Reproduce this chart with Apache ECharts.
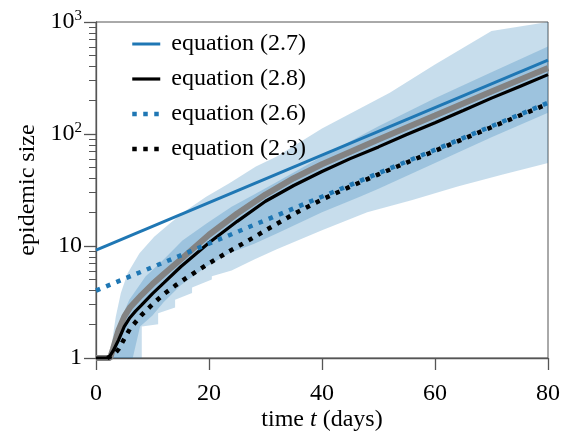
<!DOCTYPE html>
<html><head><meta charset="utf-8">
<script src="https://cdn.jsdelivr.net/npm/echarts@6/dist/echarts.min.js"></script>
<style>html,body{margin:0;padding:0;background:#fff}#c{width:570px;height:432px}</style>
</head><body><div id="c"></div>
<script>
// ---- data ----
const xTicks = [0, 20, 40, 60, 80];
const yTickValues = [1, 10, 100, 1000];
const yTickLabels = ['1', '10', '{b|10}{s|2}', '{b|10}{s|3}'];
const yMinorTicks = [2,3,4,5,6,7,8,9,20,30,40,50,60,70,80,90,200,300,400,500,600,700,800,900];

const eq27Days = [0, 80];
const eq27Vals = [9.2, 457];

const eq26Days = [0, 80];
const eq26Vals = [4.0, 190];

const eq28Days = [0, 2, 2.5, 3, 4, 5, 6, 7, 8, 10, 12, 15, 20, 25, 30, 35, 40, 45, 50, 55, 60, 65, 70, 75, 80];
const eq28Vals = [1, 1, 1.05, 1.15, 1.45, 1.91, 2.29, 2.62, 2.95, 3.76, 4.68, 6.53, 10.7, 16.6, 25.1, 34.7, 46.2, 60.3, 76.7, 98.9, 126, 162, 209, 266, 339];

const eq23Days = [2, 3, 4, 5, 6, 8, 10, 12, 14, 16, 18, 20, 22, 24, 26, 28, 30, 35, 40, 45, 50, 55, 60, 70, 80];
const eq23Vals = [1, 1.05, 1.2, 1.48, 1.82, 2.4, 3.02, 3.72, 4.42, 5.19, 6.03, 7.0, 8.04, 9.23, 10.5, 12.0, 13.8, 19.3, 26.0, 33.9, 43.6, 55.6, 70.8, 115, 186];

const simDays = [0, 2.5, 3, 4, 5, 6, 8, 10, 12, 15, 20, 25, 30, 35, 40, 50, 60, 70, 80];
const simVals = [1, 1, 1.2, 1.78, 2.34, 2.82, 3.63, 4.57, 5.62, 7.59, 12.6, 19.5, 28.8, 40.3, 53.7, 89.1, 146, 240, 389];

const outerUpDays = [2.5, 3, 3.5, 4.4, 5.6, 7.7, 10.3, 13, 16, 19.5, 23.6, 28.3, 32, 40, 52, 60, 70, 80];
const outerUpVals = [1, 1.58, 2.34, 3.8, 5.7, 8.61, 12.1, 15.8, 20.9, 27.5, 36.3, 51.3, 63.1, 112, 234, 417, 832, 1259];
const outerLoDays = [2.5, 8.1, 8.1, 11, 11, 14, 14, 17, 17, 20.5, 20.5, 24, 28, 32, 40, 48, 56, 64, 72, 80];
const outerLoVals = [1, 1, 1.91, 2.0, 2.51, 2.82, 3.31, 3.8, 4.27, 5.01, 5.37, 6.03, 7.59, 9.33, 13.8, 20.0, 25.7, 33.9, 43.6, 55.0];

const innerUpDays = [2.5, 3, 4, 5.9, 8.8, 11.8, 15.3, 19.5, 24, 28, 32, 40, 50, 60, 70, 80];
const innerUpVals = [1, 1.26, 2.0, 3.31, 5.37, 7.41, 11.2, 15.8, 22.4, 28.8, 37.2, 63.1, 117, 209, 355, 603];
const innerLoDays = [2.5, 6.5, 7.8, 10, 12, 15, 19.5, 23.6, 28, 32, 40, 46.7, 50, 60, 70, 80];
const innerLoVals = [1, 1, 1.91, 2.4, 3.16, 4.47, 6.53, 8.61, 10.5, 12.9, 20.0, 27.5, 32.4, 55.0, 93.3, 155];

// ---- chart ----
const FONT = 'Liberation Serif';
const FS = 24;
const BLUE = '#1f77b4';
const AXIS = '#555';

function pairs(d, v) { return d.map((x, i) => [x, v[i]]); }

function band(upD, upV, loD, loV, color, z) {
  return {
    type: 'custom', silent: true, z: z, clip: true,
    data: [[upD[0], upV[0]]],
    renderItem: function (params, api) {
      const pts = [];
      for (let i = 0; i < upD.length; i++) pts.push(api.coord([upD[i], upV[i]]));
      for (let i = loD.length - 1; i >= 0; i--) pts.push(api.coord([loD[i], loV[i]]));
      const cs = params.coordSys;
      const c = echarts.graphic.clipPointsByRect(pts, {x: cs.x, y: cs.y, width: cs.width, height: cs.height});
      return {type: 'polygon', shape: {points: c}, style: {fill: color}};
    }
  };
}

function yLabel(v) {
  let best = 0;
  for (let i = 0; i < yTickValues.length; i++) {
    if (Math.abs(Math.log10(v) - Math.log10(yTickValues[i])) < Math.abs(Math.log10(v) - Math.log10(yTickValues[best]))) best = i;
  }
  return yTickLabels[best];
}

const chart = echarts.init(document.getElementById('c'), null, {renderer: 'canvas'});
chart.setOption({
  animation: false,
  backgroundColor: '#fff',
  textStyle: {fontFamily: FONT, color: '#000'},
  grid: {left: 96, right: 22, top: 22, bottom: 74, show: true, borderColor: AXIS, borderWidth: 1,
    backgroundColor: 'transparent', containLabel: false, outerBoundsMode: 'none'},
  legend: {
    data: ['equation (2.7)', 'equation (2.8)', 'equation (2.6)', 'equation (2.3)'],
    orient: 'vertical', left: 125, top: 27, itemWidth: 28, itemHeight: 14, itemGap: 11,
    itemStyle: {color: 'rgba(0,0,0,0)', borderColor: 'rgba(0,0,0,0)', borderWidth: 0, opacity: 0},
    lineStyle: {width: 'inherit', type: 'inherit', cap: 'butt'},
    textStyle: {fontFamily: FONT, fontSize: FS, color: '#000', lineHeight: 24, padding: [0, 0, 0, 6]}
  },
  xAxis: {
    type: 'value', min: 0, max: 80, interval: 20,
    name: '{n|time }{i|t}{n| (days)}', nameLocation: 'middle', nameGap: 50, nameMoveOverlap: false,
    nameTextStyle: {rich: {n: {fontFamily: FONT, fontSize: FS, color: '#000'}, i: {fontFamily: FONT, fontSize: FS, fontStyle: 'italic', color: '#000'}}},
    axisLine: {lineStyle: {color: AXIS, width: 1.3}},
    axisTick: {inside: false, length: 12, lineStyle: {color: AXIS, width: 1.3}},
    axisLabel: {fontFamily: FONT, fontSize: FS, color: '#000', margin: 24},
    splitLine: {show: false}
  },
  yAxis: [{
    type: 'log', logBase: 10, min: 1, max: 1000, interval: 1,
    name: 'epidemic size', nameLocation: 'middle', nameGap: 56, nameRotate: 90, nameMoveOverlap: false,
    nameTextStyle: {fontFamily: FONT, fontSize: FS, color: '#000'},
    axisLine: {lineStyle: {color: AXIS, width: 1.3}},
    axisTick: {inside: false, length: 12, lineStyle: {color: AXIS, width: 1.3}},
    axisLabel: {fontFamily: FONT, fontSize: FS, color: '#000', margin: 14, formatter: yLabel,
      rich: {b: {fontFamily: FONT, fontSize: FS, color: '#000'}, s: {fontFamily: FONT, fontSize: 15, color: '#000', padding: [0, 0, 11, 0]}}},
    splitLine: {show: false}
  }, {
    type: 'log', logBase: 10, min: 1, max: 1000, position: 'left',
    axisLine: {show: false},
    axisTick: {show: true, inside: false, length: 7, customValues: yMinorTicks, lineStyle: {color: AXIS, width: 1}},
    axisLabel: {show: false}, splitLine: {show: false}
  }],
  series: [
    band(outerUpDays, outerUpVals, outerLoDays, outerLoVals, 'rgba(31,119,180,0.25)', 1),
    band(innerUpDays, innerUpVals, innerLoDays, innerLoVals, 'rgba(31,119,180,0.25)', 2),
    {name: 'simulation', type: 'line', data: pairs(simDays, simVals), symbol: 'none',
      lineStyle: {color: '#838383', width: 6}, z: 3, silent: true},
    {name: 'equation (2.7)', type: 'line', data: pairs(eq27Days, eq27Vals), symbol: 'none',
      lineStyle: {color: BLUE, width: 3}, itemStyle: {color: BLUE}, z: 4},
    {name: 'equation (2.8)', type: 'line', data: pairs(eq28Days, eq28Vals), symbol: 'none',
      lineStyle: {color: '#000', width: 3.2}, itemStyle: {color: '#000'}, z: 5},
    {name: 'equation (2.6)', type: 'line', data: pairs(eq26Days, eq26Vals), symbol: 'none',
      lineStyle: {color: BLUE, width: 4.5, type: [4.5, 6.5], cap: 'butt'}, itemStyle: {color: BLUE}, z: 6},
    {name: 'equation (2.3)', type: 'line', data: pairs(eq23Days, eq23Vals), symbol: 'none',
      lineStyle: {color: '#000', width: 4.5, type: [4.5, 6.5], cap: 'butt'}, itemStyle: {color: '#000'}, z: 7}
  ]
});
</script>
</body></html>
